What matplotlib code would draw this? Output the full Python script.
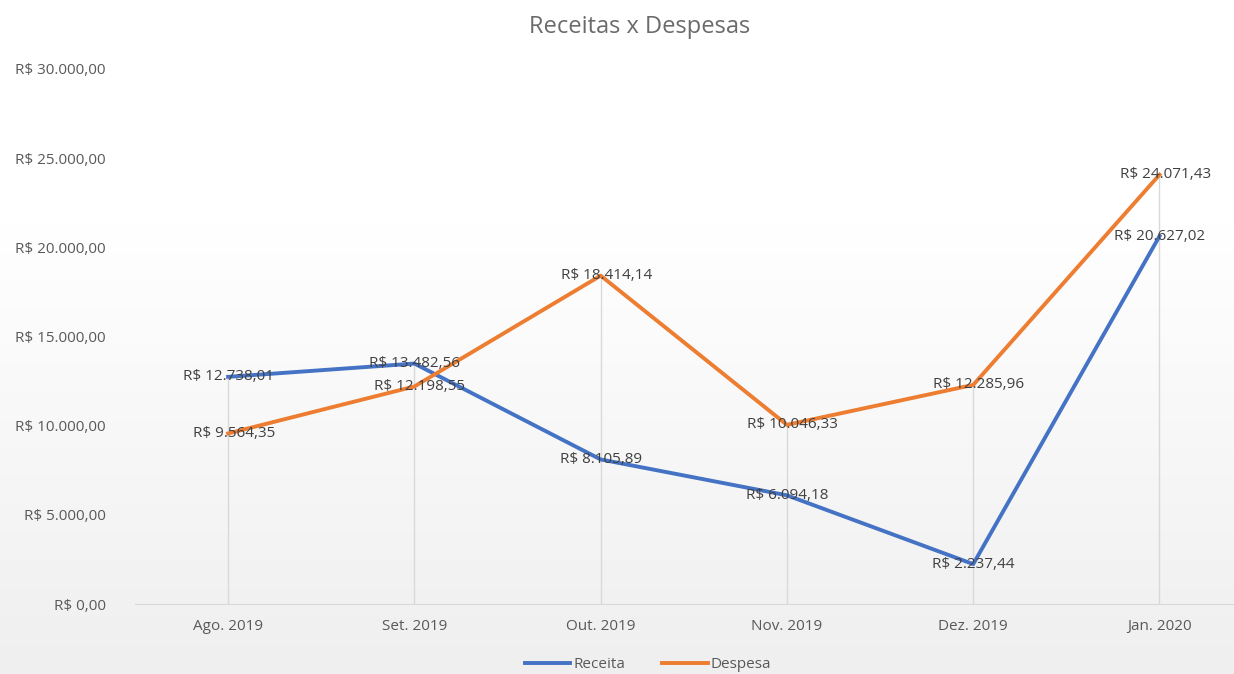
import numpy as np
import matplotlib
matplotlib.use('Agg')
from matplotlib import pyplot as plt

months = ['Ago. 2019', 'Set. 2019', 'Out. 2019', 'Nov. 2019', 'Dez. 2019', 'Jan. 2020']
receita = [12738.01, 13482.56, 8105.89, 6094.18, 2237.44, 20627.02]
despesa = [9564.35, 12198.55, 18414.14, 10046.33, 12285.96, 24071.43]

blue = '#4472C4'
orange = '#ED7D31'
text_grey = '#595959'

plt.rcParams['font.family'] = ['Open Sans', 'DejaVu Sans']


def brl(v):
    s = '{:,.2f}'.format(v)
    s = s.replace(',', 'X').replace('.', ',').replace('X', '.')
    return 'R$ ' + s


fig = plt.figure(figsize=(12.34, 6.74), dpi=100)

# subtle vertical gradient background
bg = fig.add_axes([0, 0, 1, 1], zorder=-10)
grad = np.linspace(0, 1, 256).reshape(-1, 1)
bg.imshow(grad, aspect='auto', cmap=matplotlib.colors.LinearSegmentedColormap.from_list(
    'g', ['#ffffff', '#ffffff', '#f7f7f7', '#efefef']), extent=[0, 1, 0, 1], origin='upper')
bg.axis('off')

W, H = 1234, 674
left, right = 135 / W, 1234 / W
bottom, top = 1 - 604 / H, 1 - 69 / H
ax = fig.add_axes([left, bottom, right - left, top - bottom])
ax.patch.set_alpha(0)

x = np.arange(len(months))
# drop lines
for i in x:
    ax.plot([i, i], [0, max(receita[i], despesa[i])], color='#d9d9d9', lw=1, zorder=1)

ax.plot(x, receita, color=blue, lw=2.8, label='Receita', zorder=3, solid_joinstyle='round')
ax.plot(x, despesa, color=orange, lw=2.8, label='Despesa', zorder=3, solid_joinstyle='round')

for i in x:
    ax.text(i, receita[i], brl(receita[i]), ha='center', va='center', fontsize=11,
            color='#404040', zorder=4)
    ax.text(i + 0.03, despesa[i], brl(despesa[i]), ha='center', va='center', fontsize=11,
            color='#404040', zorder=4)

ax.set_xlim(-0.5, 5.4)
ax.set_ylim(0, 30000)
ax.set_yticks(np.arange(0, 30001, 5000))
ax.set_yticklabels([brl(v) for v in np.arange(0, 30001, 5000)])
ax.set_xticks(x)
ax.set_xticklabels(months)
ax.tick_params(axis='both', length=0, labelsize=11, colors=text_grey)
ax.tick_params(axis='y', pad=21)
ax.tick_params(axis='x', pad=11)
for s in ['top', 'right', 'left']:
    ax.spines[s].set_visible(False)
ax.spines['bottom'].set_color('#d9d9d9')

fig.text(640 / W, 1 - 27 / H, 'Receitas x Despesas', ha='center', va='center',
         fontsize=17, color='#6b6b6b')

leg = fig.legend(loc='center', bbox_to_anchor=(648 / W, 1 - 665 / H), ncol=2, frameon=False,
                 fontsize=11, handlelength=3.0, columnspacing=2.4, handletextpad=0.2)
for t in leg.get_texts():
    t.set_color(text_grey)

fig.savefig('out.png', dpi=100)
